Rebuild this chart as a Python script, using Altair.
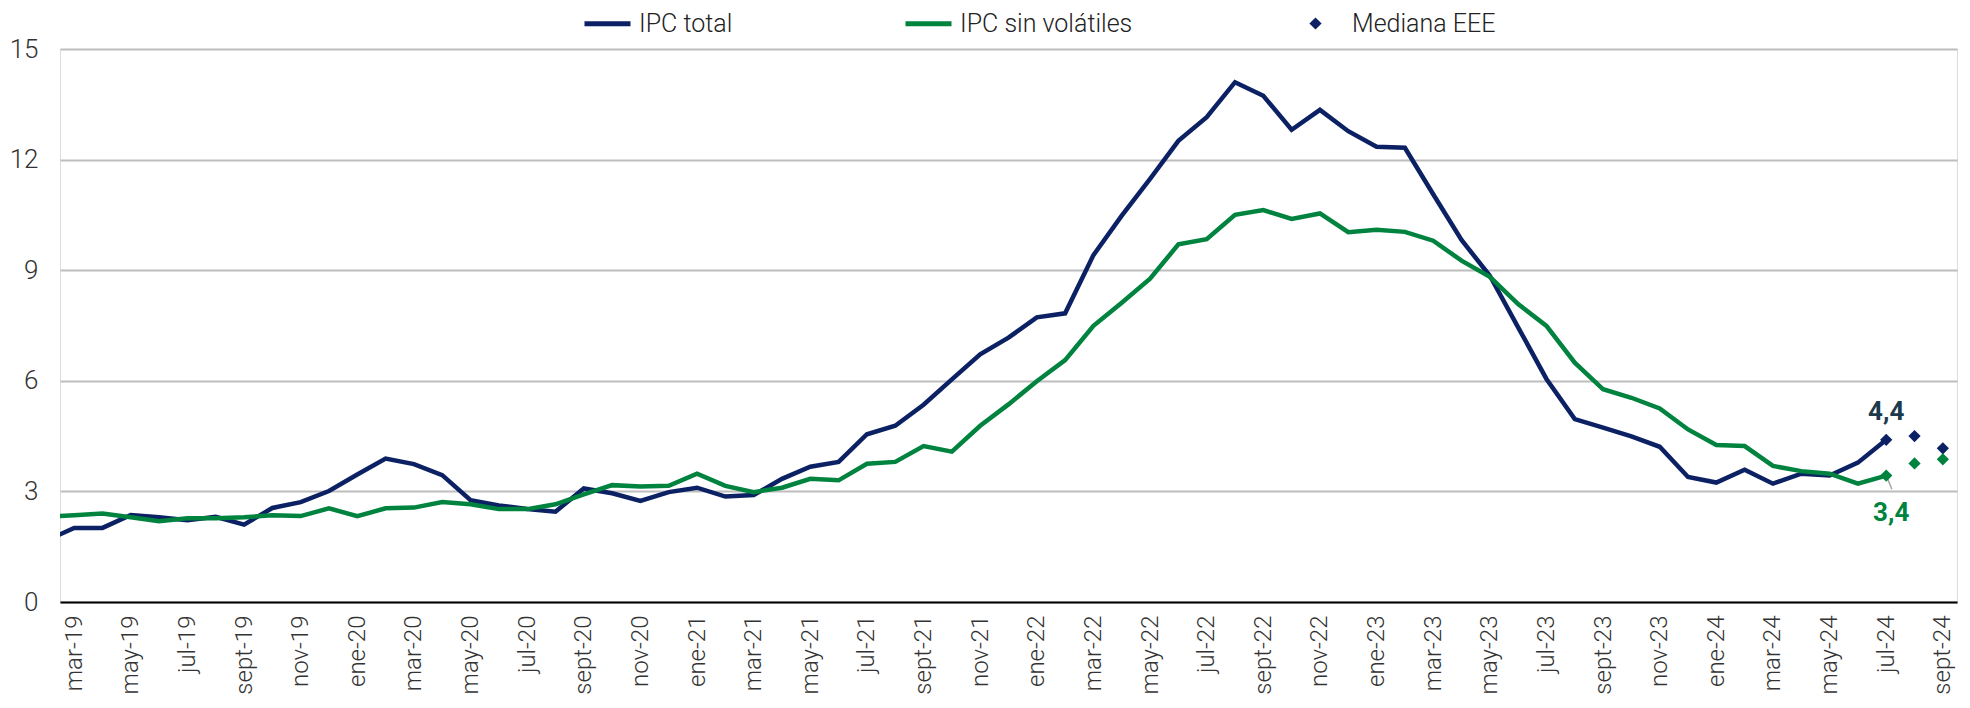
import json
import altair as alt
import pandas as pd

# ---- data ----
abrev = ["ene", "feb", "mar", "abr", "may", "jun", "jul", "ago", "sept", "oct", "nov", "dic"]
# months from feb-19 (index -1) to jul-24 (index 64)
meses = [f"{abrev[(1 + k) % 12]}-{19 + (1 + k) // 12}" for k in range(66)]
indices = list(range(-1, 65))

ipc_total = [1.66, 2.01, 2.01, 2.36, 2.30, 2.22, 2.31, 2.10, 2.55, 2.71, 3.01,
             3.46, 3.89, 3.74, 3.44, 2.76, 2.62, 2.52, 2.45, 3.08, 2.95, 2.74, 2.98,
             3.10, 2.86, 2.90, 3.34, 3.67, 3.80, 4.55, 4.78, 5.35, 6.04, 6.72, 7.17,
             7.72, 7.83, 9.41, 10.48, 11.48, 12.51, 13.15, 14.10, 13.73, 12.81, 13.35, 12.77,
             12.35, 12.32, 11.06, 9.82, 8.85, 7.45, 6.05, 4.96, 4.73, 4.49, 4.21, 3.39,
             3.24, 3.59, 3.21, 3.48, 3.43, 3.78, 4.40]
ipc_sin_volatiles = [2.31, 2.35, 2.40, 2.30, 2.19, 2.27, 2.27, 2.30, 2.35, 2.33, 2.54,
                     2.33, 2.54, 2.56, 2.71, 2.65, 2.52, 2.52, 2.65, 2.92, 3.17, 3.13, 3.15,
                     3.48, 3.15, 2.98, 3.10, 3.34, 3.30, 3.75, 3.80, 4.23, 4.08, 4.78, 5.36,
                     5.99, 6.56, 7.49, 8.12, 8.77, 9.70, 9.84, 10.50, 10.63, 10.39, 10.54, 10.03,
                     10.10, 10.04, 9.80, 9.26, 8.82, 8.08, 7.49, 6.49, 5.77, 5.54, 5.25, 4.68,
                     4.26, 4.23, 3.69, 3.55, 3.48, 3.21, 3.43]

# Mediana EEE (jul-24, ago-24, sept-24)
eee_idx = [64, 65, 66]
eee_total = [4.40, 4.50, 4.17]
eee_sin_vol = [3.43, 3.76, 3.87]

# tick labels (every second month)
etiquetas = ["mar-19", "may-19", "jul-19", "sept-19", "nov-19",
             "ene-20", "mar-20", "may-20", "jul-20", "sept-20", "nov-20",
             "ene-21", "mar-21", "may-21", "jul-21", "sept-21", "nov-21",
             "ene-22", "mar-22", "may-22", "jul-22", "sept-22", "nov-22",
             "ene-23", "mar-23", "may-23", "jul-23", "sept-23", "nov-23",
             "ene-24", "mar-24", "may-24", "jul-24", "sept-24"]
tick_vals = list(range(0, 67, 2))

series = ["IPC total", "IPC sin volátiles"]
NAVY = "#0b2163"
GREEN = "#00833f"
LABEL_NAVY = "#1d3a4c"

lineas = pd.DataFrame({
    "idx": indices * 2,
    "mes": meses * 2,
    "valor": ipc_total + ipc_sin_volatiles,
    "serie": [series[0]] * len(indices) + [series[1]] * len(indices),
})
eee = pd.DataFrame({
    "idx": eee_idx * 2,
    "valor": eee_total + eee_sin_vol,
    "serie": [series[0]] * 3 + [series[1]] * 3,
    "tipo": ["Mediana EEE"] * 6,
})
etiq_total = pd.DataFrame({"idx": [64], "valor": [ipc_total[-1]], "texto": ["4,4"]})
etiq_sv = pd.DataFrame({"idx": [64], "valor": [ipc_sin_volatiles[-1]], "texto": ["3,4"]})
guia = pd.DataFrame({"idx": [64.02], "valor": [3.40], "idx2": [64.2], "valor2": [3.06]})

FONT = "Roboto"
LIGHT = 300

x_enc = alt.X(
    "idx:Q",
    scale=alt.Scale(domain=[-0.5, 66.5], nice=False, zero=False),
    axis=alt.Axis(
        values=tick_vals,
        labelExpr=f"{json.dumps(etiquetas)}[datum.value / 2]",
        labelAngle=-90,
        labelPadding=13,
        labelFontSize=24,
        labelFont=FONT,
        labelFontWeight=LIGHT,
        labelColor="#333333",
        ticks=False,
        grid=False,
        domainColor="#000000",
        domainWidth=2,
        title=None,
        labelOverlap=False,
    ),
)
y_enc = alt.Y(
    "valor:Q",
    scale=alt.Scale(domain=[0, 15], nice=False),
    axis=alt.Axis(
        values=[0, 3, 6, 9, 12, 15],
        grid=True,
        gridColor="#bdbdbd",
        gridWidth=2,
        domain=False,
        ticks=False,
        labelPadding=22,
        labelFontSize=26,
        labelFont=FONT,
        labelFontWeight=LIGHT,
        labelColor="#333333",
        title=None,
    ),
)

lineas_ch = alt.Chart(lineas).mark_line(strokeWidth=4.5, clip=True).encode(
    x=x_enc,
    y=y_enc,
    color=alt.Color(
        "serie:N",
        scale=alt.Scale(domain=series, range=[NAVY, GREEN]),
        legend=alt.Legend(
            orient="none", legendX=522, legendY=-51, direction="horizontal",
            title=None, symbolType="stroke", symbolStrokeWidth=5, symbolSize=2116,
            labelFontSize=25, labelFont=FONT, labelFontWeight=LIGHT, labelColor="#222222",
            columnPadding=162, labelOffset=6, labelLimit=0,
        ),
    ),
    detail="serie:N",
)

eee_ch = alt.Chart(eee).mark_point(filled=True, size=150, opacity=1).encode(
    x="idx:Q",
    y="valor:Q",
    fill=alt.Fill("serie:N", scale=alt.Scale(domain=series, range=[NAVY, GREEN]), legend=None),
    shape=alt.Shape(
        "tipo:N",
        scale=alt.Scale(domain=["Mediana EEE"], range=["diamond"]),
        legend=alt.Legend(
            orient="none", legendX=1243, legendY=-38, title=None,
            symbolFillColor=NAVY, symbolStrokeColor=NAVY, symbolStrokeWidth=0,
            symbolSize=150, labelFontSize=25, labelFont=FONT, labelFontWeight=LIGHT,
            labelColor="#222222", labelOffset=24, labelLimit=0,
        ),
    ),
)

guia_ch = alt.Chart(guia).mark_rule(color="#a6a6a6", strokeWidth=1.5).encode(
    x="idx:Q", y="valor:Q", x2="idx2:Q", y2="valor2:Q"
)

txt_total = alt.Chart(etiq_total).mark_text(
    font=FONT, fontSize=26, fontWeight="bold", color=LABEL_NAVY, dy=-28
).encode(x="idx:Q", y="valor:Q", text="texto:N")

txt_sv = alt.Chart(etiq_sv).mark_text(
    font=FONT, fontSize=26, fontWeight="bold", color=GREEN, dx=5, dy=37
).encode(x="idx:Q", y="valor:Q", text="texto:N")

chart = (
    alt.layer(lineas_ch, guia_ch, eee_ch, txt_total, txt_sv)
    .resolve_scale(fill="independent")
    .properties(
        width=1897,
        height=553,
        padding={"left": 52, "top": 41, "right": 5, "bottom": 104},
        autosize=alt.AutoSizeParams(type="none"),
    )
    .configure_view(stroke=None)
    .configure(font=FONT)
)

chart.save("out.html", embed_options={"renderer": "svg", "actions": False})
